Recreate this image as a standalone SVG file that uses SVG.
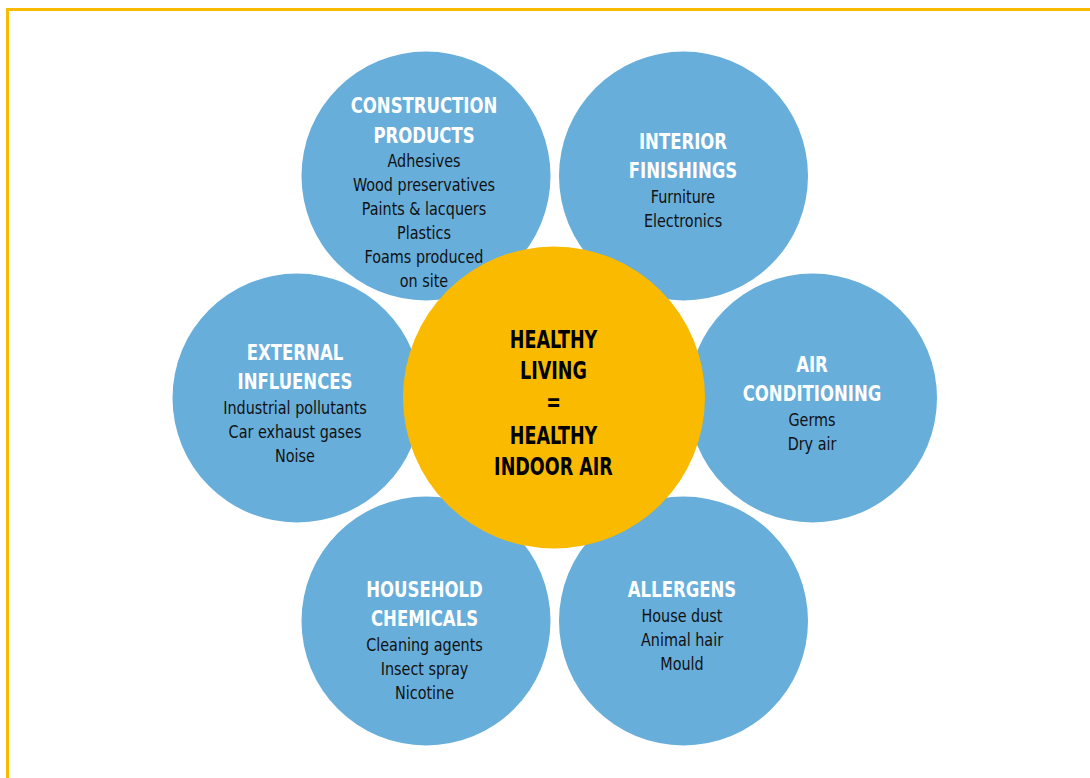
<svg xmlns="http://www.w3.org/2000/svg" width="1090" height="778" viewBox="0 0 1090 778">
<style>
.bub{fill:#67AEDB}
.core{fill:#F9BA00}
text{font-family:"DejaVu Sans Condensed","Liberation Sans Narrow","Liberation Sans",sans-serif;text-anchor:middle}
.t{fill:#FFFFFF;font-weight:bold;font-size:22px}
.b{fill:#111111;font-size:17px}
.c{fill:#000000;font-weight:bold;font-size:25px}
</style>
<rect x="7.5" y="9.5" width="1100" height="800" fill="#FFFFFF" stroke="#F9BA00" stroke-width="3"/>
<g id="connectors"/>
<g id="node-construction-products">
<circle class="bub" cx="426" cy="176" r="124.5"/>
</g>
<g id="node-interior-finishings">
<circle class="bub" cx="683.5" cy="176" r="124.5"/>
<g transform="translate(683 0) scale(0.835 1)">
<text class="t" x="0" y="149">INTERIOR</text>
<text class="t" x="0" y="178.5">FINISHINGS</text>
</g>
<g transform="translate(683 0) scale(0.94 1)">
<text class="b" x="0" y="203">Furniture</text>
<text class="b" x="0" y="227">Electronics</text>
</g>
</g>
<g id="node-external-influences">
<circle class="bub" cx="297" cy="398" r="124.5"/>
<g transform="translate(295 0) scale(0.835 1)">
<text class="t" x="0" y="360">EXTERNAL</text>
<text class="t" x="0" y="389.5">INFLUENCES</text>
</g>
<g transform="translate(295 0) scale(0.94 1)">
<text class="b" x="0" y="414">Industrial pollutants</text>
<text class="b" x="0" y="438">Car exhaust gases</text>
<text class="b" x="0" y="462">Noise</text>
</g>
</g>
<g id="node-air-conditioning">
<circle class="bub" cx="812.5" cy="398" r="124.5"/>
<g transform="translate(812 0) scale(0.835 1)">
<text class="t" x="0" y="372">AIR</text>
<text class="t" x="0" y="401.5">CONDITIONING</text>
</g>
<g transform="translate(812 0) scale(0.94 1)">
<text class="b" x="0" y="426">Germs</text>
<text class="b" x="0" y="450">Dry air</text>
</g>
</g>
<g id="node-household-chemicals">
<circle class="bub" cx="426" cy="621" r="124.5"/>
<g transform="translate(424.5 0) scale(0.835 1)">
<text class="t" x="0" y="597">HOUSEHOLD</text>
<text class="t" x="0" y="626.5">CHEMICALS</text>
</g>
<g transform="translate(424.5 0) scale(0.94 1)">
<text class="b" x="0" y="651.5">Cleaning agents</text>
<text class="b" x="0" y="675.5">Insect spray</text>
<text class="b" x="0" y="699.5">Nicotine</text>
</g>
</g>
<g id="node-allergens">
<circle class="bub" cx="683.5" cy="621" r="124.5"/>
<g transform="translate(682 0) scale(0.835 1)">
<text class="t" x="0" y="597.5">ALLERGENS</text>
</g>
<g transform="translate(682 0) scale(0.94 1)">
<text class="b" x="0" y="622">House dust</text>
<text class="b" x="0" y="646">Animal hair</text>
<text class="b" x="0" y="670">Mould</text>
</g>
</g>
<g id="node-center">
<circle class="core" cx="554" cy="397.5" r="151"/>
<g transform="translate(553.5 0) scale(0.78 1)">
<text class="c" x="0" y="348.5">HEALTHY</text>
<text class="c" x="0" y="379.5">LIVING</text>
<text class="c" x="0" y="411.5">=</text>
<text class="c" x="0" y="444">HEALTHY</text>
<text class="c" x="0" y="475.5">INDOOR AIR</text>
</g>
</g>
<g id="node-construction-products-label">
<g transform="translate(424 0) scale(0.835 1)">
<text class="t" x="0" y="113">CONSTRUCTION</text>
<text class="t" x="0" y="143">PRODUCTS</text>
</g>
<g transform="translate(424 0) scale(0.94 1)">
<text class="b" x="0" y="167.5">Adhesives</text>
<text class="b" x="0" y="191.5">Wood preservatives</text>
<text class="b" x="0" y="215.5">Paints &amp; lacquers</text>
<text class="b" x="0" y="239.5">Plastics</text>
<text class="b" x="0" y="263.5">Foams produced</text>
<text class="b" x="0" y="287">on site</text>
</g>
</g>
</svg>
